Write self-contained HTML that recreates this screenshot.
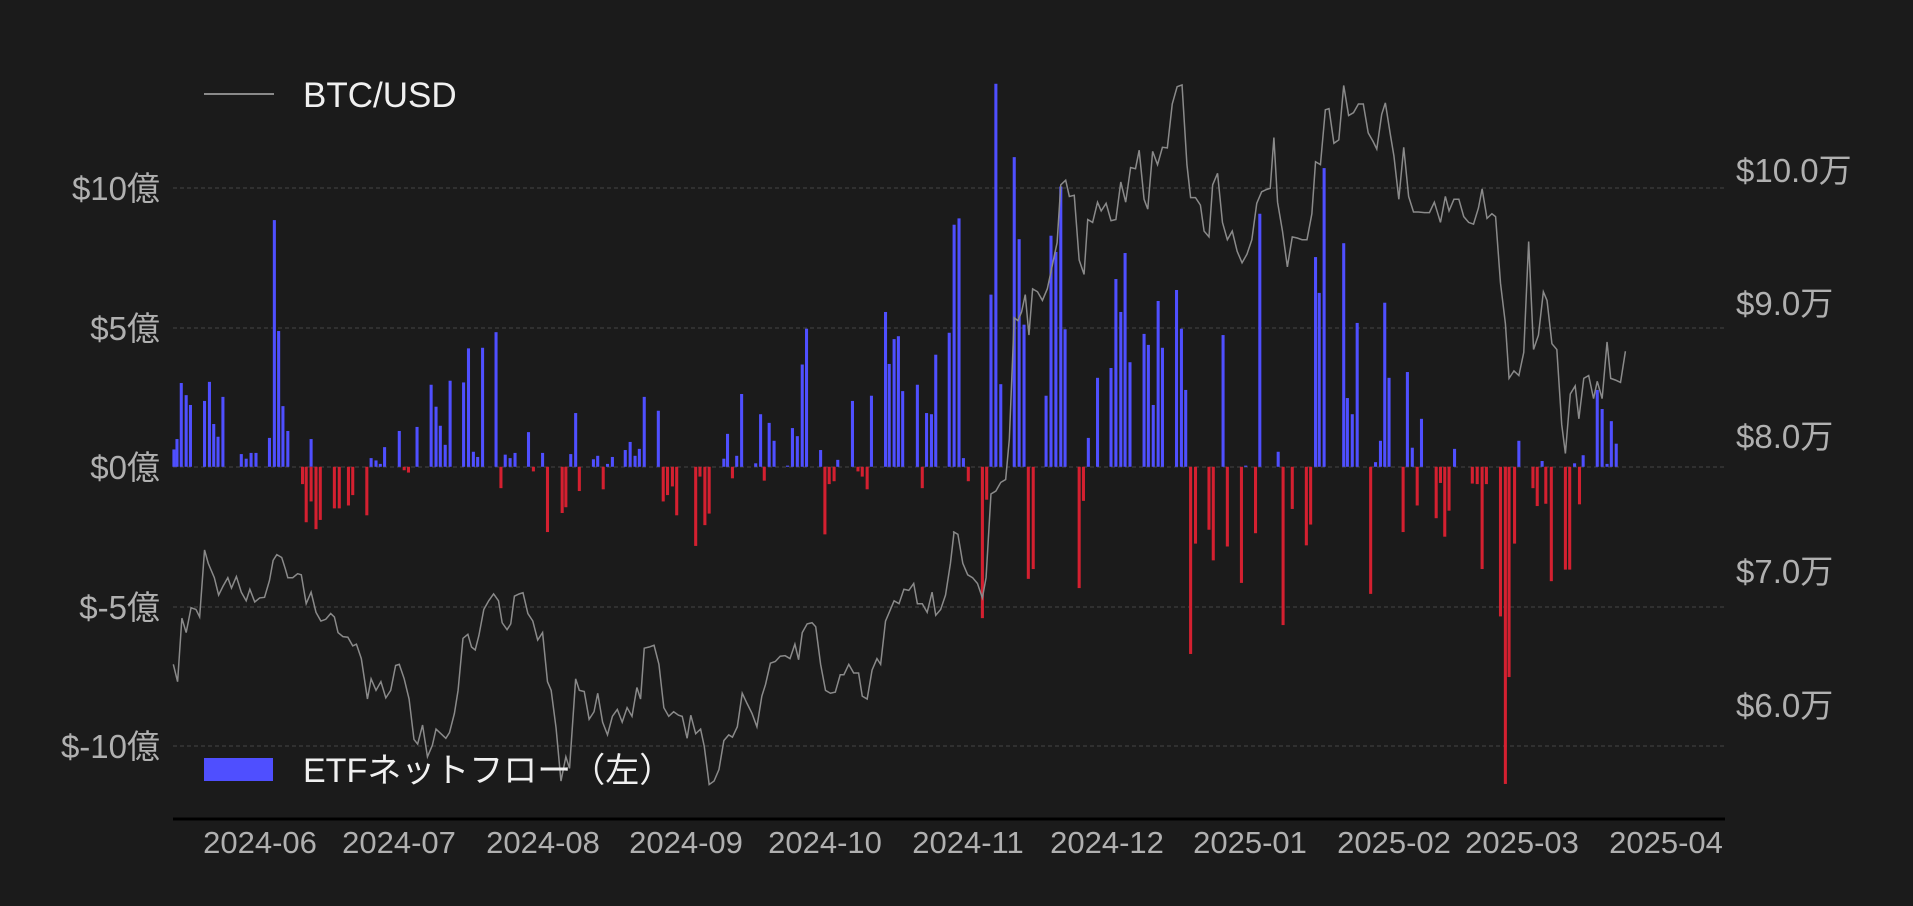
<!DOCTYPE html>
<html><head><meta charset="utf-8">
<style>
html,body{margin:0;padding:0;background:#1b1b1b;}
svg{display:block;}
text{font-family:"Liberation Sans","Noto Sans CJK JP",sans-serif;}
</style></head>
<body>
<svg id="s" width="1913" height="906" viewBox="0 0 1913 906" xmlns="http://www.w3.org/2000/svg">
<rect width="1913" height="906" fill="#1b1b1b"/>
<g stroke="#444" stroke-width="1" stroke-dasharray="4,3">
<line x1="173" y1="188" x2="1725" y2="188"/>
<line x1="173" y1="328" x2="1725" y2="328"/>
<line x1="173" y1="467" x2="1725" y2="467"/>
<line x1="173" y1="607" x2="1725" y2="607"/>
<line x1="173" y1="746" x2="1725" y2="746"/>
</g>
<g id="bars1" transform="scale(0.6124,0.5777)"></g>
<g id="bars2" transform="translate(953,0) scale(0.6124,0.5777)"></g>
<g transform="scale(0.6124,0.5777)"><polyline id="l1" fill="none" stroke="#8a8a8a" stroke-width="1.5" vector-effect="non-scaling-stroke"/></g>
<g transform="translate(953,0) scale(0.6124,0.5777)"><polyline id="l2" fill="none" stroke="#8a8a8a" stroke-width="1.5" vector-effect="non-scaling-stroke"/></g>
<line x1="173" y1="819" x2="1725" y2="819" stroke="#000" stroke-width="3"/>
<g fill="#b0b0b0" font-size="33" text-anchor="end">
<text x="160" y="200">$10億</text>
<text x="160" y="340">$5億</text>
<text x="160" y="479">$0億</text>
<text x="160" y="619">$-5億</text>
<text x="160" y="758">$-10億</text>
</g>
<g fill="#b0b0b0" font-size="33">
<text x="1736" y="182">$10.0万</text>
<text x="1736" y="315">$9.0万</text>
<text x="1736" y="448">$8.0万</text>
<text x="1736" y="583">$7.0万</text>
<text x="1736" y="717">$6.0万</text>
</g>
<g fill="#b0b0b0" font-size="31" text-anchor="middle">
<text x="260" y="853">2024-06</text>
<text x="399" y="853">2024-07</text>
<text x="543" y="853">2024-08</text>
<text x="686" y="853">2024-09</text>
<text x="825" y="853">2024-10</text>
<text x="968" y="853">2024-11</text>
<text x="1107" y="853">2024-12</text>
<text x="1250" y="853">2025-01</text>
<text x="1394" y="853">2025-02</text>
<text x="1522" y="853">2025-03</text>
<text x="1666" y="853">2025-04</text>
</g>
<line x1="204" y1="94" x2="274" y2="94" stroke="#8a8a8a" stroke-width="2"/>
<text x="303" y="107" fill="#f0f0f0" font-size="35">BTC/USD</text>
<rect x="204" y="758" width="69" height="23" fill="#4f4fff"/>
<text x="303" y="782" fill="#f0f0f0" font-size="34">ETFネットフロー（左）</text>
</svg>
<script>
var B='#4f4fff',R='#d42030',Z=808;
var p1=[284,778,289,760,296,663,304,684,311,701,334,694,342,661,349,734,356,756,364,687,394,786,402,794,410,784,418,784,440,758,448,381,455,573,462,703,470,746,508,760,606,793,614,797,621,803,628,774,652,746,681,739,704,666,712,704,719,737,727,770,735,659,757,662,765,603,773,782,780,791,788,602,810,575,825,787,833,793,841,784,863,748,886,784,932,786,940,715,969,795,976,789,992,803,1000,791,1021,779,1029,765,1037,789,1044,777,1052,687,1075,711,1182,794,1188,751,1203,789,1211,682,1234,802,1242,717,1256,732,1264,763,1286,806,1294,741,1302,755,1310,631,1317,569,1340,779,1368,796,1392,694,1423,685,1446,540,1452,630,1460,587,1467,582,1474,677,1498,666,1513,715,1521,717,1528,614,1550,576,1558,389,1566,378];
var n1=[494,838,500,904,508,868,516,916,523,900,546,880,554,880,569,875,576,857,599,892,660,814,667,818,818,845,871,816,894,921,918,888,924,878,946,850,985,847,1083,868,1090,857,1098,842,1105,892,1136,945,1143,825,1151,909,1158,889,1196,828,1248,832,1347,925,1354,838,1362,833,1401,816,1408,825,1416,847,1506,845];
var p2=[17,793,62,510,70,145,78,665,100,272,108,414,116,562,152,685,160,408,168,436,176,323,183,570,221,758,236,654,258,637,266,483,274,540,281,438,289,627,312,578,319,597,327,701,335,521,342,602,365,502,373,569,380,675,441,580,478,806,501,370,531,782,592,445,598,507,606,291,638,421,644,689,652,717,660,559,690,800,698,763,705,524,712,654,742,644,750,775,765,725,819,777,924,763,962,798,1015,802,1029,788,1052,675,1060,708,1068,803,1075,729,1083,768];
var n2=[25,833,48,1070,55,865,123,1002,131,985,206,1018,213,867,388,1132,396,941,418,917,425,970,448,946,471,1009,494,923,539,1082,554,881,577,944,584,908,682,1028,735,921,758,875,789,897,796,836,803,929,810,884,848,837,856,838,864,985,871,838,894,1067,902,1357,908,1172,917,941,947,845,954,876,968,872,977,1006,1000,986,1007,986,1023,873];
function add(g,a,pos){var s='';for(var i=0;i<a.length;i+=2){var x=a[i]-2.5,y=a[i+1];
s+= pos?'<rect x="'+x+'" y="'+y+'" width="5" height="'+(Z-y)+'" fill="'+B+'"/>':'<rect x="'+x+'" y="'+Z+'" width="5" height="'+(y-Z)+'" fill="'+R+'"/>';}
document.getElementById(g).insertAdjacentHTML('beforeend',s);}
add('bars1',p1,1);add('bars1',n1,0);add('bars2',p2,1);add('bars2',n2,0);
var l1=[283,1150,290,1180,297,1070,304,1095,312,1052,320,1055,326,1068,334,952,340,975,350,1000,357,1030,364,1015,372,1000,378,1018,386,998,394,1025,402,1040,408,1020,416,1042,424,1035,432,1034,440,1005,446,970,452,960,460,965,466,985,470,1000,478,1000,486,993,492,995,500,1045,508,1025,516,1060,524,1075,532,1072,540,1062,546,1068,552,1095,560,1102,568,1103,576,1118,582,1115,590,1140,600,1210,606,1175,614,1195,622,1180,630,1208,638,1195,646,1152,652,1150,660,1175,668,1210,676,1280,682,1288,690,1255,698,1310,706,1290,712,1262,720,1270,728,1278,734,1268,742,1235,748,1195,756,1105,764,1098,770,1120,776,1125,782,1100,790,1055,798,1040,806,1028,814,1040,820,1078,828,1090,834,1080,840,1032,848,1028,854,1026,862,1062,870,1075,878,1108,886,1095,894,1180,900,1195,908,1260,916,1352,924,1310,930,1330,940,1175,946,1195,954,1197,962,1245,970,1232,976,1200,984,1250,992,1272,1000,1240,1008,1228,1016,1250,1024,1225,1032,1240,1040,1190,1046,1210,1052,1122,1060,1120,1068,1117,1076,1150,1084,1225,1092,1240,1100,1232,1108,1238,1114,1240,1122,1278,1128,1238,1136,1270,1144,1262,1150,1292,1158,1358,1166,1352,1174,1332,1182,1282,1190,1272,1196,1276,1204,1258,1212,1200,1220,1218,1228,1235,1236,1258,1244,1205,1250,1185,1258,1148,1266,1145,1274,1136,1282,1135,1290,1140,1298,1115,1304,1142,1310,1095,1318,1080,1326,1078,1332,1085,1340,1150,1348,1195,1356,1200,1364,1198,1372,1168,1378,1168,1386,1150,1394,1165,1402,1165,1408,1205,1416,1210,1424,1160,1432,1140,1438,1150,1446,1075,1452,1060,1460,1040,1468,1045,1476,1020,1484,1022,1492,1010,1498,1045,1506,1045,1514,1060,1522,1025,1528,1065,1536,1055,1544,1030,1552,975,1558,920];
var l2=[0,920,8,925,16,975,24,995,32,1000,40,1010,48,1035,54,1000,62,855,70,850,78,835,86,830,92,760,100,550,106,555,112,540,118,510,124,580,130,500,138,505,146,520,154,500,162,460,170,420,176,320,184,312,190,340,198,338,206,450,214,475,220,380,228,385,236,350,242,365,250,352,258,382,266,380,274,315,282,350,290,290,298,292,304,260,312,345,318,362,326,262,334,285,342,255,350,256,358,180,366,150,374,147,382,285,388,342,396,342,404,355,410,400,418,410,424,320,432,300,440,385,448,415,456,400,464,435,472,455,480,440,488,415,496,352,504,332,512,328,518,326,524,238,530,350,538,400,546,462,554,410,562,412,570,415,578,415,586,370,592,280,600,285,608,190,614,188,622,248,630,242,638,148,646,200,654,195,662,180,670,180,678,230,686,245,692,258,700,198,706,178,714,232,720,270,728,345,736,255,744,340,752,367,760,367,770,368,778,368,786,350,796,385,804,340,810,365,818,345,826,345,834,375,842,385,850,388,858,360,864,327,872,378,880,370,886,375,894,490,902,560,908,655,916,642,924,650,932,610,940,418,948,605,956,580,964,505,970,520,978,595,986,605,994,735,1000,785,1008,682,1016,668,1022,725,1030,655,1038,650,1046,690,1052,660,1060,690,1068,592,1074,655,1082,658,1090,662,1098,608];
document.getElementById('l1').setAttribute('points',l1.join(' '));
document.getElementById('l2').setAttribute('points',l2.join(' '));
</script>
</body></html>
